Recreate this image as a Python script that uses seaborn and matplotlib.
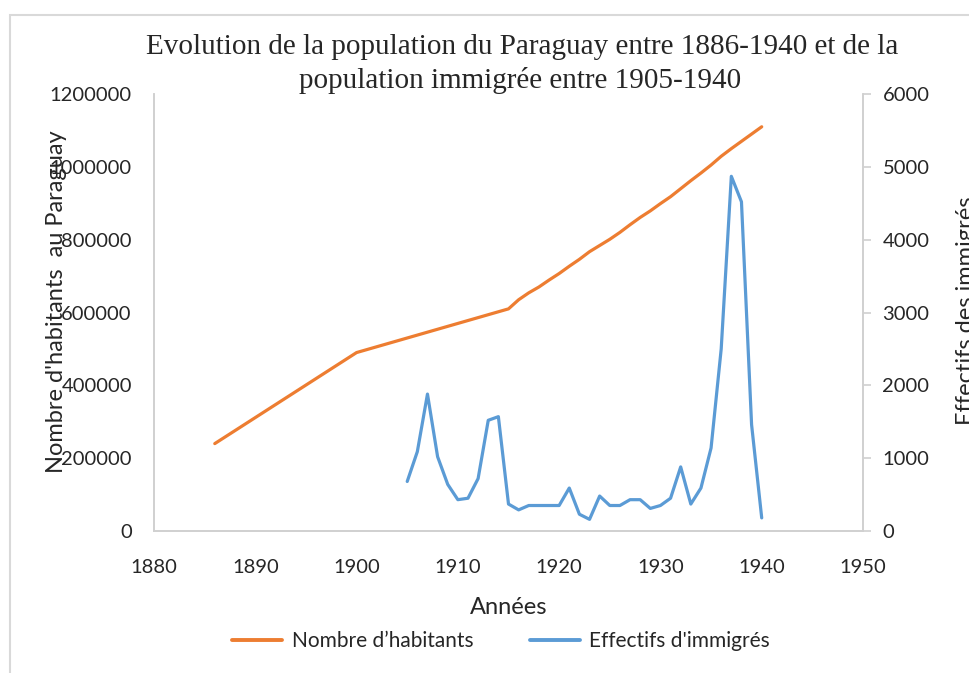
import matplotlib
matplotlib.use("Agg")
import matplotlib.pyplot as plt
import seaborn as sns
from matplotlib.lines import Line2D

# Population du Paraguay (axe gauche)
annees_pop = [1886, 1900, 1915, 1916, 1917, 1918, 1919, 1920, 1921, 1922, 1923,
              1924, 1925, 1926, 1927, 1928, 1929, 1930, 1931, 1932, 1933, 1934,
              1935, 1936, 1937, 1938, 1939, 1940]
habitants = [240000, 490000, 610000, 635000, 654000, 670000, 689000, 707000,
             727000, 746000, 767000, 784000, 801000, 820000, 841000, 861000,
             879000, 899000, 918000, 940000, 962000, 983000, 1005000, 1029000,
             1050000, 1070000, 1090000, 1110000]

# Immigrés (axe droit)
annees_imm = list(range(1905, 1941))
immigres = [680, 1090, 1880, 1020, 640, 430, 450, 720, 1520, 1570,
            370, 290, 350, 350, 350, 350, 590, 230, 160, 480,
            350, 350, 430, 430, 310, 350, 450, 880, 370, 590,
            1140, 2500, 4870, 4520, 1460, 180]

x_ticks = [1880, 1890, 1900, 1910, 1920, 1930, 1940, 1950]
y_ticks_left = [0, 200000, 400000, 600000, 800000, 1000000, 1200000]
y_ticks_right = [0, 1000, 2000, 3000, 4000, 5000, 6000]
titre = ["Evolution de la population du Paraguay entre 1886-1940 et de la",
         "population immigrée entre 1905-1940"]

orange = "#ED7D31"
bleu = "#5B9BD5"
gris = "#D0D0D0"

sns.set_style("white")
plt.rcParams['font.family'] = ['Lato', 'DejaVu Sans']

fig = plt.figure(figsize=(9.7, 6.73), dpi=100)
ax = fig.add_axes([154 / 970, 1 - 531 / 673, (863 - 154) / 970, (531 - 94) / 673])
ax2 = ax.twinx()

sns.lineplot(x=annees_pop, y=habitants, ax=ax, color=orange, linewidth=2.3)
sns.lineplot(x=annees_imm, y=immigres, ax=ax2, color=bleu, linewidth=2.3)

ax.set_xlim(1880, 1950)
ax.set_ylim(0, 1200000)
ax2.set_ylim(0, 6000)
ax.set_xticks(x_ticks)
ax.set_yticks(y_ticks_left)
ax2.set_yticks(y_ticks_right)
ax.set_yticklabels([str(v) for v in y_ticks_left])
ax2.set_yticklabels([str(v) for v in y_ticks_right])

for a in (ax, ax2):
    for s in a.spines.values():
        s.set_color(gris)
        s.set_linewidth(1.2)
    a.spines['top'].set_visible(False)
    a.set_ylabel("")
    a.set_xlabel("")

ax.tick_params(axis='x', length=0, pad=20, labelsize=14.5)
ax.tick_params(axis='y', length=0, pad=16, labelsize=14.5)
ax2.tick_params(axis='y', length=6, width=1.2, color=gris, pad=8, labelsize=14.5)

ax.set_xlabel("Années", fontsize=17, labelpad=15)

fig.text(57 / 970, 1 - 302 / 673, "Nombre d'habitants  au Paraguay",
         rotation=90, ha='center', va='center', fontsize=17)
fig.text(967 / 970, 1 - 311 / 673, "Effectifs des immigrés",
         rotation=90, ha='center', va='center', fontsize=17)

# titre sur deux lignes
serif = ['Liberation Serif', 'DejaVu Serif']
fig.text(522 / 970, 1 - 47 / 673, titre[0], ha='center', va='center',
         fontsize=21, family=serif)
fig.text(520 / 970, 1 - 81 / 673, titre[1], ha='center', va='center',
         fontsize=21, family=serif)

handles = [Line2D([0], [0], color=orange, linewidth=2.8),
           Line2D([0], [0], color=bleu, linewidth=2.8)]
fig.legend(handles, ["Nombre d’habitants", "Effectifs d'immigrés"],
           loc='center', bbox_to_anchor=(501 / 970, 1 - 641 / 673), ncol=2,
           frameon=False, fontsize=15, handlelength=2.4, columnspacing=2.7,
           handletextpad=0.45)

# cadre du graphique
fig.add_artist(plt.Rectangle((10 / 970, -0.05), 1.1, 1 - 15 / 673 + 0.05,
                             transform=fig.transFigure, fill=False,
                             edgecolor="#D9D9D9", linewidth=1.5))

fig.savefig("out.png", dpi=100)
